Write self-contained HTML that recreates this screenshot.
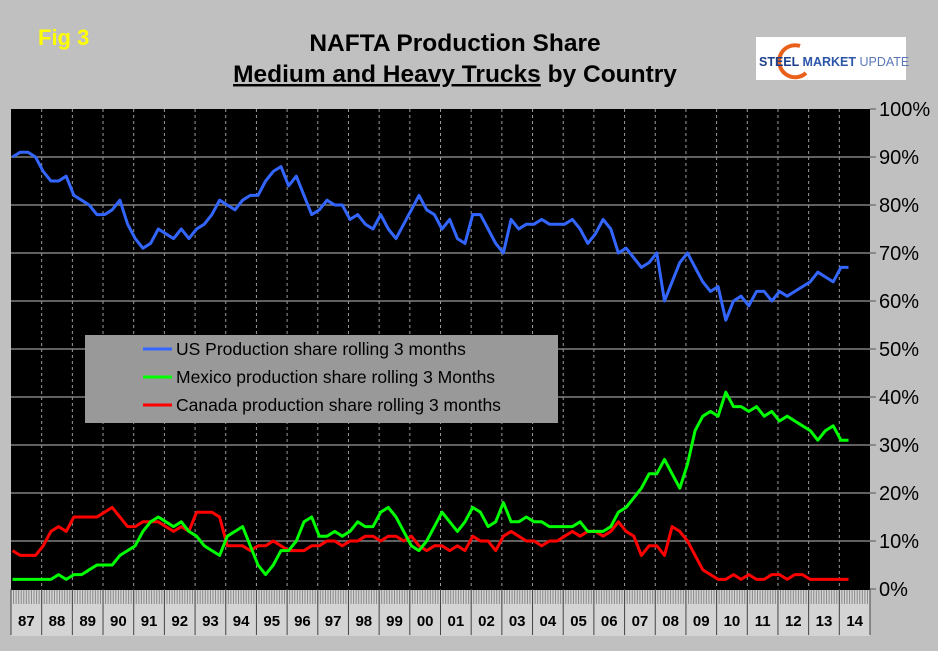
<!DOCTYPE html>
<html><head><meta charset="utf-8">
<style>
html,body{margin:0;padding:0;background:#c0c0c0;}
body{width:938px;height:646px;overflow:hidden;font-family:"Liberation Sans",Arial,sans-serif;}
</style></head>
<body>
<svg id="chart" width="938" height="646" xmlns="http://www.w3.org/2000/svg" font-family="Liberation Sans, Arial, sans-serif">
<rect x="0" y="0" width="938" height="646" fill="#c0c0c0"/>
<text x="38" y="45" font-size="22" font-weight="bold" fill="#ffff00">Fig 3</text>
<text x="455" y="51" font-size="24.5" font-weight="bold" text-anchor="middle" fill="#000">NAFTA Production Share</text>
<text x="455" y="82" font-size="24.5" font-weight="bold" text-anchor="middle" fill="#000"><tspan text-decoration="underline">Medium and Heavy Trucks</tspan> by Country</text>
<g>
<rect x="756" y="37" width="150" height="43" fill="#fff"/>
<path d="M800 46 A16 16 0 1 0 806 73" stroke="#e8601a" stroke-width="4" fill="none"/>
<text x="759" y="66" font-size="12.5" font-weight="bold" fill="#1c3f8c">STEEL <tspan fill="#2a55a8">MARKET</tspan> <tspan font-weight="normal" fill="#5a78b8">UPDATE</tspan></text>
</g>
<rect x="11" y="109" width="859" height="481" fill="#000"/>
<g id="grid"></g>
<g id="yaxis"></g>
<g id="xaxis"></g>
<g id="series"></g>
<g>
<rect x="85" y="335" width="473" height="88" fill="#999999"/>
<line x1="143" y1="349" x2="172" y2="349" stroke="#3366ff" stroke-width="3"/>
<text x="176" y="355" font-size="17.5" fill="#000">US Production share rolling 3 months</text>
<line x1="143" y1="377" x2="172" y2="377" stroke="#00ff00" stroke-width="3"/>
<text x="176" y="383" font-size="17.5" fill="#000">Mexico production share rolling 3 Months</text>
<line x1="143" y1="405" x2="172" y2="405" stroke="#ff0000" stroke-width="3"/>
<text x="176" y="411" font-size="17.5" fill="#000">Canada production share rolling 3 months</text>
</g>
</svg>
<script>
const years = ["87","88","89","90","91","92","93","94","95","96","97","98","99","00","01","02","03","04","05","06","07","08","09","10","11","12","13","14"];
const yTicks = [0,10,20,30,40,50,60,70,80,90,100];
// quarterly values starting 1987 Q1
const usShare = [90,91,91,90, 87,85,85,86, 82,81,80,78, 78,79,81,76, 73,71,72,75, 74,73,75,73, 75,76,78,81, 80,79,81,82, 82,85,87,88, 84,86,82,78, 79,81,80,80, 77,78,76,75, 78,75,73,76, 79,82,79,78, 75,77,73,72, 78,78,75,72, 70,77,75,76, 76,77,76,76, 76,77,75,72, 74,77,75,70, 71,69,67,68, 70,60,64,68, 70,67,64,62, 63,56,60,61, 59,62,62,60, 62,61,62,63, 64,66,65,64, 67,67];
const mexicoShare = [2,2,2,2, 2,2,3,2, 3,3,4,5, 5,5,7,8, 9,12,14,15, 14,13,14,12, 11,9,8,7, 11,12,13,9, 5,3,5,8, 8,10,14,15, 11,11,12,11, 12,14,13,13, 16,17,15,12, 9,8,10,13, 16,14,12,14, 17,16,13,14, 18,14,14,15, 14,14,13,13, 13,13,14,12, 12,12,13,16, 17,19,21,24, 24,27,24,21, 26,33,36,37, 36,41,38,38, 37,38,36,37, 35,36,35,34, 33,31,33,34, 31,31];
const canadaShare = [8,7,7,7, 9,12,13,12, 15,15,15,15, 16,17,15,13, 13,14,14,14, 13,12,13,12, 16,16,16,15, 9,9,9,8, 9,9,10,9, 8,8,8,9, 9,10,10,9, 10,10,11,11, 10,11,11,10, 11,9,8,9, 9,8,9,8, 11,10,10,8, 11,12,11,10, 10,9,10,10, 11,12,11,12, 12,11,12,14, 12,11,7,9, 9,7,13,12, 10,7,4,3, 2,2,3,2, 3,2,2,3, 3,2,3,3, 2,2,2,2, 2,2];

const NS="http://www.w3.org/2000/svg";
const X0=11, X1=870, Y0=589, Y1=109;
const yearW=(X1-X0)/years.length;
function xOfYear(t){return X0+t*yearW;}
function xOfIdx(i){return xOfYear(i/4+0.05);}
function yOf(v){return Y0-(v/100)*(Y0-Y1);}
function mk(tag,attrs,parent){const e=document.createElementNS(NS,tag);for(const k in attrs)e.setAttribute(k,attrs[k]);parent.appendChild(e);return e;}

const grid=document.getElementById('grid');
const yaxis=document.getElementById('yaxis');
const xaxis=document.getElementById('xaxis');
const series=document.getElementById('series');

yTicks.forEach(v=>{
  const y=yOf(v);
  if(v>0&&v<100){
    const l=mk('line',{x1:X0,x2:X1,y1:y,y2:y,stroke:'#808080','stroke-width':1.5},grid);
    
    
  }
  const tk=mk('line',{x1:X1,x2:X1+6,y1:y,y2:y,stroke:'#555','stroke-width':1},yaxis);
  
  
  const t=mk('text',{x:X1+9,y:y+7,'font-size':20,fill:'#000'},yaxis);
  t.textContent=v+'%';
  
  
});

const band=mk('rect',{x:X0,y:Y0+1,width:X1-X0,height:46,fill:'#d4d4d4'},xaxis);


for(let m=0;m<years.length*12;m++){
  const x=X0+m*yearW/12;
  const l=mk('line',{x1:x,x2:x,y1:Y0+1,y2:Y0+15,stroke:'#888','stroke-width':1},xaxis);
  
  
}
years.forEach((yr,i)=>{
  const x=xOfYear(i);
  if(i>0){
    const g=mk('line',{x1:x,x2:x,y1:Y1,y2:Y0,stroke:'#9a9a9a','stroke-width':1,'stroke-dasharray':'3,3'},grid);
    
    
  }
  const s=mk('line',{x1:x,x2:x,y1:Y0,y2:Y0+46,stroke:'#444','stroke-width':1},xaxis);
  
  
  const t=mk('text',{x:x+yearW/2,y:Y0+37,'font-size':15,'font-weight':'bold','text-anchor':'middle',fill:'#000'},xaxis);
  t.textContent=yr;
  
  
});
mk('line',{x1:X1,x2:X1,y1:Y0,y2:Y0+46,stroke:'#444','stroke-width':1},xaxis);

function drawLine(data,color,name){
  const pts=data.map((v,i)=>xOfIdx(i).toFixed(1)+','+yOf(v).toFixed(1)).join(' ');
  const p=mk('polyline',{points:pts,fill:'none',stroke:color,'stroke-width':3,'stroke-linejoin':'round'},series);
  
  
}
drawLine(canadaShare,'#ff0000','canada-share-line');
drawLine(mexicoShare,'#00ff00','mexico-share-line');
drawLine(usShare,'#3366ff','us-share-line');
</script>
</body></html>
